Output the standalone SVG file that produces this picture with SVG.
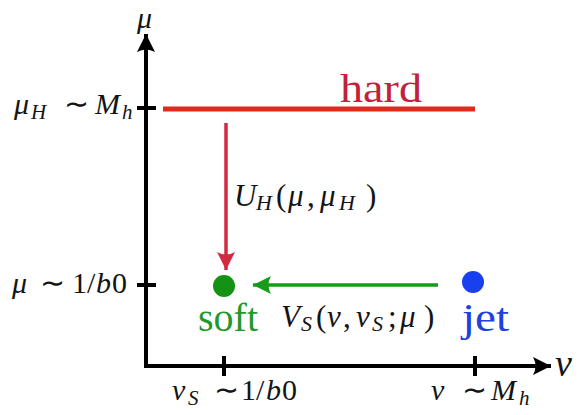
<svg xmlns="http://www.w3.org/2000/svg" width="578" height="415" viewBox="0 0 578 415">
<style>
text{font-family:'Liberation Serif',serif}
.m{fill:#141414}
.ax{stroke:#000;stroke-width:4;fill:none}
</style>
<defs>
<marker id="ahK" markerUnits="userSpaceOnUse" markerWidth="24" markerHeight="24" viewBox="-20 -12 24 24" refX="0" refY="0" orient="auto">
<path d="M0,0 L-18,-9 Q-13,0 -18,9 Z" fill="#000"/>
</marker>
<marker id="ahR" markerUnits="userSpaceOnUse" markerWidth="24" markerHeight="24" viewBox="-20 -12 24 24" refX="0" refY="0" orient="auto">
<path d="M0,0 L-18,-9 Q-13,0 -18,9 Z" fill="#d42a40"/>
</marker>
<marker id="ahG" markerUnits="userSpaceOnUse" markerWidth="24" markerHeight="24" viewBox="-20 -12 24 24" refX="0" refY="0" orient="auto">
<path d="M0,0 L-18,-9 Q-13,0 -18,9 Z" fill="#1a9a1a"/>
</marker>
</defs>
<rect width="578" height="415" fill="#fff"/>

<g id="axes">
<path class="ax" d="M146,366 L146,34" marker-end="url(#ahK)"/>
<path class="ax" d="M144,366 L551,366" marker-end="url(#ahK)"/>
<path class="ax" d="M137,108 L156,108 M137,285 L156,285 M224,356 L224,376 M475,356 L475,376"/>
<text class="m" font-family="Liberation Serif, serif" font-style="italic" x="137" y="28" font-size="30">μ</text>
<text class="m" font-family="Liberation Serif, serif" font-style="italic" x="555" y="376" font-size="38">ν</text>
<text class="m" font-family="Liberation Serif, serif" font-size="30"><tspan font-style="italic" x="14" y="114">μ</tspan><tspan font-style="italic" font-size="21" x="31" y="119">H</tspan><tspan x="64" y="114">∼</tspan><tspan font-style="italic" x="95" y="114">M</tspan><tspan font-style="italic" font-size="21" x="122" y="119">h</tspan></text>
<text class="m" font-family="Liberation Serif, serif" font-size="30"><tspan font-style="italic" x="12" y="293">μ</tspan><tspan x="40" y="293">∼</tspan><tspan x="72" y="293">1/</tspan><tspan font-style="italic" x="96" y="293">b</tspan><tspan x="112" y="293">0</tspan></text>
<text class="m" font-family="Liberation Serif, serif" font-size="30"><tspan font-style="italic" x="172" y="400">ν</tspan><tspan font-style="italic" font-size="21" x="188" y="405">S</tspan><tspan x="214" y="400">∼</tspan><tspan x="241" y="400">1/</tspan><tspan font-style="italic" x="266" y="400">b</tspan><tspan x="282" y="400">0</tspan></text>
<text class="m" font-family="Liberation Serif, serif" font-size="30"><tspan font-style="italic" x="431" y="400">ν</tspan><tspan x="462" y="400">∼</tspan><tspan font-style="italic" x="491" y="400">M</tspan><tspan font-style="italic" font-size="21" x="519" y="405">h</tspan></text>
</g>

<g id="hard">
<line x1="163" y1="109" x2="475" y2="109" stroke="#e2291c" stroke-width="5"/>
<text x="340" y="102" font-family="Liberation Serif, serif" font-size="40" fill="#c4203c" textLength="82" lengthAdjust="spacingAndGlyphs">hard</text>
</g>

<g id="soft">
<circle cx="224" cy="286" r="11" fill="#139213"/>
<text x="198" y="331" font-family="Liberation Serif, serif" font-size="40" fill="#1f9a2a" textLength="60" lengthAdjust="spacingAndGlyphs">soft</text>
</g>

<g id="jet">
<circle cx="473" cy="282" r="11" fill="#1840f0"/>
<text x="462" y="331" font-family="Liberation Serif, serif" font-size="40" fill="#2040e0" textLength="47" lengthAdjust="spacingAndGlyphs">jet</text>
</g>

<g id="connectors">
<line x1="226" y1="123" x2="226" y2="270" stroke="#d42a40" stroke-width="3.5" marker-end="url(#ahR)"/>
<line x1="438" y1="285" x2="253" y2="285" stroke="#1a9a1a" stroke-width="3.5" marker-end="url(#ahG)"/>
<text class="m" font-family="Liberation Serif, serif" font-size="31"><tspan font-style="italic" x="234" y="206">U</tspan><tspan font-style="italic" font-size="22" x="256" y="210">H</tspan><tspan x="276" y="206">(</tspan><tspan font-style="italic" x="288" y="206">μ</tspan><tspan x="307" y="206">,</tspan><tspan font-style="italic" x="320" y="206">μ</tspan><tspan font-style="italic" font-size="22" x="339" y="210">H</tspan><tspan x="366" y="206">)</tspan></text>
<text class="m" font-family="Liberation Serif, serif" font-size="31"><tspan font-style="italic" x="281" y="327">V</tspan><tspan font-style="italic" font-size="22" x="301" y="331">S</tspan><tspan x="316" y="327">(</tspan><tspan font-style="italic" x="327" y="327">ν</tspan><tspan x="343" y="327">,</tspan><tspan font-style="italic" x="356" y="327">ν</tspan><tspan font-style="italic" font-size="22" x="372" y="331">S</tspan><tspan x="388" y="327">;</tspan><tspan font-style="italic" x="400" y="327">μ</tspan><tspan x="424" y="327">)</tspan></text>
</g>
</svg>
